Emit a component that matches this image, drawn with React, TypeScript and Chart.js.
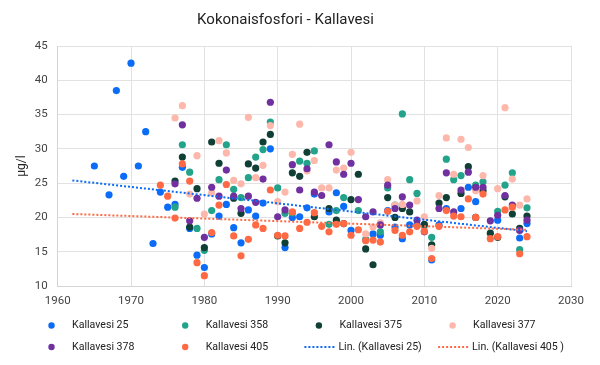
import React, { useEffect, useRef } from 'react';
import { Chart, registerables } from 'chart.js';

Chart.register(...registerables);

const FONT = 'Roboto, "Liberation Sans", Arial, sans-serif';

const TITLE = 'Kokonaisfosfori - Kallavesi';
const Y_TITLE = 'µg/l';

const X_MIN = 1960;
const X_MAX = 2030;
const X_STEP = 10;
const Y_MIN = 10;
const Y_MAX = 45;
const Y_STEP = 5;

const SERIES_LABELS = [
  'Kallavesi 25',
  'Kallavesi 358',
  'Kallavesi 375',
  'Kallavesi 377',
  'Kallavesi 378',
  'Kallavesi 405',
];
const TREND_LABELS = ['Lin. (Kallavesi 25)', 'Lin. (Kallavesi 405 )'];

const SERIES_COLORS = ['#0b6cf7', '#22a38a', '#0f3f35', '#fdb8ab', '#7030a0', '#ff6a45'];
const TREND_COLORS = ['#0b6cf7', '#ff6a45'];

const kallavesi25: [number, number][] = [
  [1965, 27.5], [1967, 23.3], [1968, 38.5], [1969, 26.0], [1970, 42.5], [1971, 27.5],
  [1972, 32.5], [1973, 16.2], [1974, 23.7], [1975, 21.5], [1976, 21.9], [1977, 27.3],
  [1978, 18.4], [1979, 14.5], [1980, 12.7], [1981, 17.6], [1982, 20.2], [1983, 21.9],
  [1984, 18.5], [1985, 16.3], [1986, 21.1], [1987, 20.2], [1988, 22.1], [1989, 30.0],
  [1991, 15.6], [1992, 20.0], [1993, 20.1], [1994, 21.4], [1995, 23.4], [1997, 20.8],
  [1998, 23.6], [1999, 21.6], [2000, 18.1], [2003, 17.6], [2004, 17.4], [2005, 21.0],
  [2006, 18.6], [2007, 16.9], [2008, 18.9], [2009, 18.9], [2011, 13.8], [2012, 18.9],
  [2013, 21.3], [2015, 21.3], [2016, 24.4], [2017, 22.3], [2020, 19.6], [2023, 17.0],
  [2024, 19.1],
];

const kallavesi358: [number, number][] = [
  [1976, 21.5], [1977, 30.6], [1978, 26.6], [1979, 18.4], [1980, 15.2], [1981, 21.0],
  [1982, 25.5], [1983, 30.6], [1984, 24.1], [1985, 22.9], [1986, 25.8], [1987, 28.8],
  [1988, 29.9], [1989, 33.9], [1990, 24.3], [1991, 20.6], [1992, 20.7], [1993, 28.2],
  [1994, 27.9], [1995, 29.7], [1997, 19.0], [1998, 21.0], [1999, 22.9], [2001, 21.0],
  [2002, 16.8], [2004, 17.9], [2005, 24.3], [2006, 21.8], [2007, 35.1], [2008, 25.5],
  [2009, 23.5], [2010, 18.8], [2011, 17.1], [2013, 28.5], [2014, 25.5], [2015, 26.1],
  [2017, 24.7], [2018, 25.2], [2020, 20.9], [2021, 24.7], [2022, 26.5], [2023, 15.3],
  [2024, 21.4],
];

const kallavesi375: [number, number][] = [
  [1976, 25.3], [1977, 28.8], [1978, 18.6], [1979, 24.2], [1980, 15.6], [1981, 31.0],
  [1982, 27.9], [1984, 22.8], [1985, 20.6], [1986, 27.8], [1987, 27.2], [1988, 31.0],
  [1989, 32.1], [1990, 17.3], [1991, 16.3], [1992, 26.5], [1993, 26.0], [1994, 29.5],
  [1995, 20.1], [1997, 21.3], [1998, 19.6], [1999, 19.1], [2000, 22.6], [2001, 26.3],
  [2002, 15.4], [2003, 13.1], [2005, 22.9], [2006, 20.0], [2007, 21.3], [2008, 20.8],
  [2010, 19.0], [2011, 16.0], [2012, 22.1], [2013, 22.9], [2015, 23.5], [2016, 27.4],
  [2017, 20.0], [2018, 23.9], [2019, 17.7], [2020, 17.1], [2021, 23.0], [2022, 20.5],
  [2023, 18.4], [2024, 20.2],
];

const kallavesi377: [number, number][] = [
  [1976, 34.5], [1977, 36.3], [1978, 23.4], [1979, 29.0], [1980, 20.5], [1981, 23.6],
  [1982, 31.2], [1983, 29.4], [1984, 25.4], [1985, 24.9], [1986, 34.6], [1987, 25.8],
  [1988, 27.6], [1989, 33.4], [1990, 22.3], [1991, 23.7], [1992, 29.2], [1993, 33.6],
  [1994, 26.8], [1995, 28.3], [1996, 24.3], [1997, 24.3], [1998, 26.9], [1999, 27.2],
  [2000, 29.5], [2002, 17.6], [2003, 18.6], [2004, 19.2], [2005, 25.5], [2006, 21.8],
  [2007, 21.9], [2009, 22.4], [2010, 20.1], [2011, 15.5], [2012, 23.2], [2013, 31.6],
  [2014, 26.3], [2015, 31.4], [2016, 30.2], [2017, 23.9], [2018, 26.1], [2020, 24.2],
  [2021, 36.0], [2022, 25.6], [2023, 21.8], [2024, 22.7],
];

const kallavesi378: [number, number][] = [
  [1976, 24.9], [1977, 33.5], [1978, 19.5], [1979, 22.8], [1980, 17.1], [1981, 24.4],
  [1982, 23.1], [1983, 26.9], [1984, 23.1], [1985, 21.3], [1986, 23.1], [1987, 22.2],
  [1988, 25.6], [1989, 36.8], [1990, 20.1], [1991, 21.1], [1992, 27.7], [1993, 24.0],
  [1994, 27.1], [1995, 23.7], [1996, 23.2], [1997, 30.6], [1998, 28.1], [1999, 26.3],
  [2000, 27.9], [2001, 22.6], [2002, 20.1], [2003, 20.8], [2004, 18.9], [2005, 24.7],
  [2006, 21.3], [2007, 23.0], [2008, 21.8], [2009, 19.6], [2010, 17.9], [2012, 21.3],
  [2013, 26.5], [2014, 20.8], [2015, 24.0], [2016, 26.6], [2017, 24.4], [2018, 24.4],
  [2019, 19.5], [2020, 20.3], [2021, 23.2], [2022, 21.8], [2023, 18.1], [2024, 19.6],
];

const kallavesi405: [number, number][] = [
  [1974, 24.7], [1975, 23.1], [1976, 19.9], [1977, 27.8], [1978, 25.3], [1979, 13.4],
  [1980, 11.5], [1981, 17.8], [1982, 21.8], [1983, 24.8], [1984, 17.3], [1985, 14.4],
  [1986, 16.8], [1987, 18.9], [1988, 18.4], [1989, 24.0], [1990, 17.4], [1991, 17.3],
  [1992, 20.8], [1993, 18.4], [1994, 19.3], [1995, 20.7], [1996, 18.7], [1997, 17.9],
  [1998, 19.0], [1999, 19.1], [2000, 17.4], [2001, 18.2], [2002, 16.6], [2003, 16.7],
  [2004, 16.4], [2005, 20.9], [2006, 18.1], [2007, 17.4], [2008, 17.9], [2009, 18.7],
  [2010, 18.0], [2011, 14.0], [2012, 18.7], [2013, 21.0], [2014, 20.2], [2015, 20.1],
  [2016, 22.7], [2017, 20.0], [2018, 23.4], [2019, 16.9], [2020, 17.2], [2021, 21.1],
  [2022, 21.5], [2023, 14.7], [2024, 17.2],
];

const trend25: [number, number][] = [[1962, 25.4], [2024, 18.0]];
const trend405: [number, number][] = [[1962, 20.5], [2024, 18.2]];

const SERIES_DATA = [kallavesi25, kallavesi358, kallavesi375, kallavesi377, kallavesi378, kallavesi405];
const TREND_DATA = [trend25, trend405];

const toPoints = (arr: [number, number][]) => arr.map(([x, y]) => ({ x, y }));

const gridLegend = {
  id: 'gridLegend',
  afterDraw(chart: any) {
    const ctx = chart.ctx as CanvasRenderingContext2D;
    const items = [
      ...SERIES_LABELS.map((label, i) => ({ label, color: SERIES_COLORS[i], line: false })),
      ...TREND_LABELS.map((label, i) => ({ label, color: TREND_COLORS[i], line: true })),
    ];
    ctx.save();
    ctx.font = `10.6px ${FONT}`;
    ctx.textBaseline = 'middle';
    ctx.textAlign = 'left';
    items.forEach((item, i) => {
      const col = i % 4;
      const row = Math.floor(i / 4);
      const tx = 71 + col * 133.7;
      const ty = 325.5 + row * 21.5;
      if (item.line) {
        ctx.strokeStyle = item.color;
        ctx.lineWidth = 2;
        ctx.setLineDash([2, 2]);
        ctx.beginPath();
        ctx.moveTo(tx - 34, ty);
        ctx.lineTo(tx - 2, ty);
        ctx.stroke();
        ctx.setLineDash([]);
        ctx.fillStyle = '#222';
        ctx.fillText(item.label, tx, ty);
      } else {
        ctx.fillStyle = item.color;
        ctx.beginPath();
        ctx.arc(tx - 19.5, ty, 3.2, 0, Math.PI * 2);
        ctx.fill();
        ctx.fillStyle = '#222';
        ctx.fillText(item.label, tx + 1, ty);
      }
    });
    ctx.restore();
  },
};

export default function App() {
  const ref = useRef<HTMLCanvasElement>(null);

  useEffect(() => {
    if (!ref.current) return;
    const pointSets = SERIES_DATA.map((arr, i) => ({
      label: SERIES_LABELS[i],
      data: toPoints(arr),
      showLine: false,
      backgroundColor: SERIES_COLORS[i],
      borderColor: SERIES_COLORS[i],
      pointRadius: 3.6,
      pointBorderWidth: 0,
      pointHoverRadius: 3.6,
      order: 20 - i,
    }));
    const trendSets = TREND_DATA.map((arr, i) => ({
      label: TREND_LABELS[i],
      data: toPoints(arr),
      showLine: true,
      borderColor: TREND_COLORS[i],
      backgroundColor: TREND_COLORS[i],
      borderWidth: 2,
      borderDash: [2, 2],
      pointRadius: 0,
      pointHoverRadius: 0,
      fill: false,
      order: 1 - i,
    }));

    const chart = new Chart(ref.current, {
      type: 'scatter',
      data: { datasets: [...pointSets, ...trendSets] as any },
      options: {
        animation: false,
        responsive: true,
        maintainAspectRatio: false,
        layout: { padding: { left: 0, right: 29, top: 0, bottom: 50 } },
        plugins: {
          legend: { display: false },
          tooltip: { enabled: false },
          title: {
            display: true,
            text: TITLE,
            color: '#222',
            font: { family: FONT, size: 15, weight: 'normal' },
            padding: { top: 11, bottom: 17 },
          },
        },
        scales: {
          x: {
            type: 'linear',
            min: X_MIN,
            max: X_MAX,
            ticks: {
              stepSize: X_STEP,
              color: '#444',
              font: { family: FONT, size: 11.5 },
              padding: 8,
              maxRotation: 0,
              callback: (v: any) => String(v),
            },
            grid: { color: '#e2e2e2', drawTicks: false, lineWidth: 1 },
            border: { color: '#d4d4d4' },
            afterFit: (s: any) => {
              s.height = 29;
            },
          },
          y: {
            type: 'linear',
            min: Y_MIN,
            max: Y_MAX,
            ticks: {
              stepSize: Y_STEP,
              color: '#444',
              font: { family: FONT, size: 11.5 },
              padding: 10,
            },
            grid: { color: '#e2e2e2', drawTicks: false, lineWidth: 1 },
            border: { color: '#d4d4d4' },
            title: {
              display: true,
              text: Y_TITLE,
              color: '#222',
              font: { family: FONT, size: 12 },
              padding: { top: 15, bottom: 0 },
            },
            afterFit: (s: any) => {
              s.width = 57.7;
            },
          },
        },
      },
      plugins: [gridLegend],
    });
    return () => chart.destroy();
  }, []);

  return (
    <div style={{ position: 'fixed', left: 0, top: 0, width: 600, height: 365, background: '#fff' }}>
      <canvas ref={ref} />
    </div>
  );
}
